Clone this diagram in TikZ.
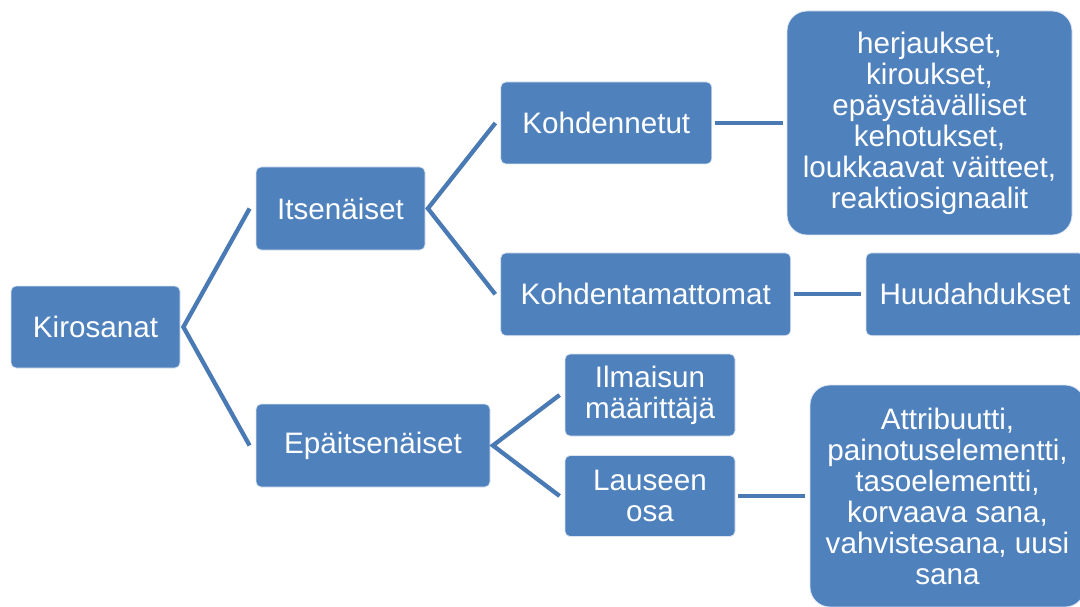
\documentclass[tikz,border=0pt]{standalone}
\usepackage{fontspec}
\setmainfont{Liberation Sans}
\usepackage{xcolor}
\definecolor{boxblue}{HTML}{4F81BD}
\definecolor{lineblue}{HTML}{4A7AB4}

\begin{document}
\begin{tikzpicture}[x=1pt, y=-1pt,
    box/.style={draw=white!80!boxblue, line width=0.8pt, fill=boxblue, text=white,
        rounded corners=5pt, align=center, inner sep=0pt,
        font=\fontsize{29.6}{31}\selectfont},
    bigbox/.style={box, rounded corners=20pt},
    link/.style={draw=lineblue, line width=4.3pt}]
    \useasboundingbox (0,0) rectangle (1080,607);
    \node[box, minimum width=169pt, minimum height=82pt] (kiro) at (95.5,327) {Kirosanat};
    \node[box, minimum width=169pt, minimum height=83pt] (itse) at (340.5,208.5) {Itsenäiset};
    \node[box, minimum width=234pt, minimum height=83pt] (epa) at (373,445.5) {Epäitsenäiset};
    \node[box, minimum width=211pt, minimum height=82pt] (kohd) at (606.3,123) {Kohdennetut};
    \node[box, minimum width=290pt, minimum height=82.7pt] (kohdm) at (645.7,294.3) {Kohdentamattomat};
    \node[box, minimum width=218pt, minimum height=82.7pt] (huud) at (975,294.3) {Huudahdukset};
    \node[box, minimum width=170pt, minimum height=82pt] (ilm) at (650,395) {Ilmaisun\\määrittäjä};
    \node[box, minimum width=170pt, minimum height=81pt] (laus) at (650,496) {Lauseen\\osa};
    \node[bigbox, minimum width=285pt, minimum height=224pt] (herj) at (929.5,123)
        {herjaukset,\\kiroukset,\\epäystävälliset\\kehotukset,\\loukkaavat väitteet,\\reaktiosignaalit};
    \node[bigbox, minimum width=275pt, minimum height=222pt] (attr) at (947.5,496)
        {Attribuutti,\\painotuselementti,\\tasoelementti,\\korvaava sana,\\vahvistesana, uusi\\sana};
    \draw[link] ([xshift=-6pt]itse.west) -- ([xshift=3pt]kiro.east) -- ([xshift=-6pt]epa.west);
    \draw[link] ([xshift=-5pt]kohd.west) -- ([xshift=2.5pt]itse.east) -- ([xshift=-5pt]kohdm.west);
    \draw[link] ([xshift=-5pt]ilm.west) -- ([xshift=2.5pt]epa.east) -- ([xshift=-5pt]laus.west);
    \draw[link] ([xshift=3pt]kohd.east) -- ([xshift=-4pt]herj.west);
    \draw[link] ([xshift=3pt]kohdm.east) -- ([xshift=-5pt]huud.west);
    \draw[link] ([xshift=3pt]laus.east) -- ([xshift=-5pt]attr.west);
\end{tikzpicture}
\end{document}
